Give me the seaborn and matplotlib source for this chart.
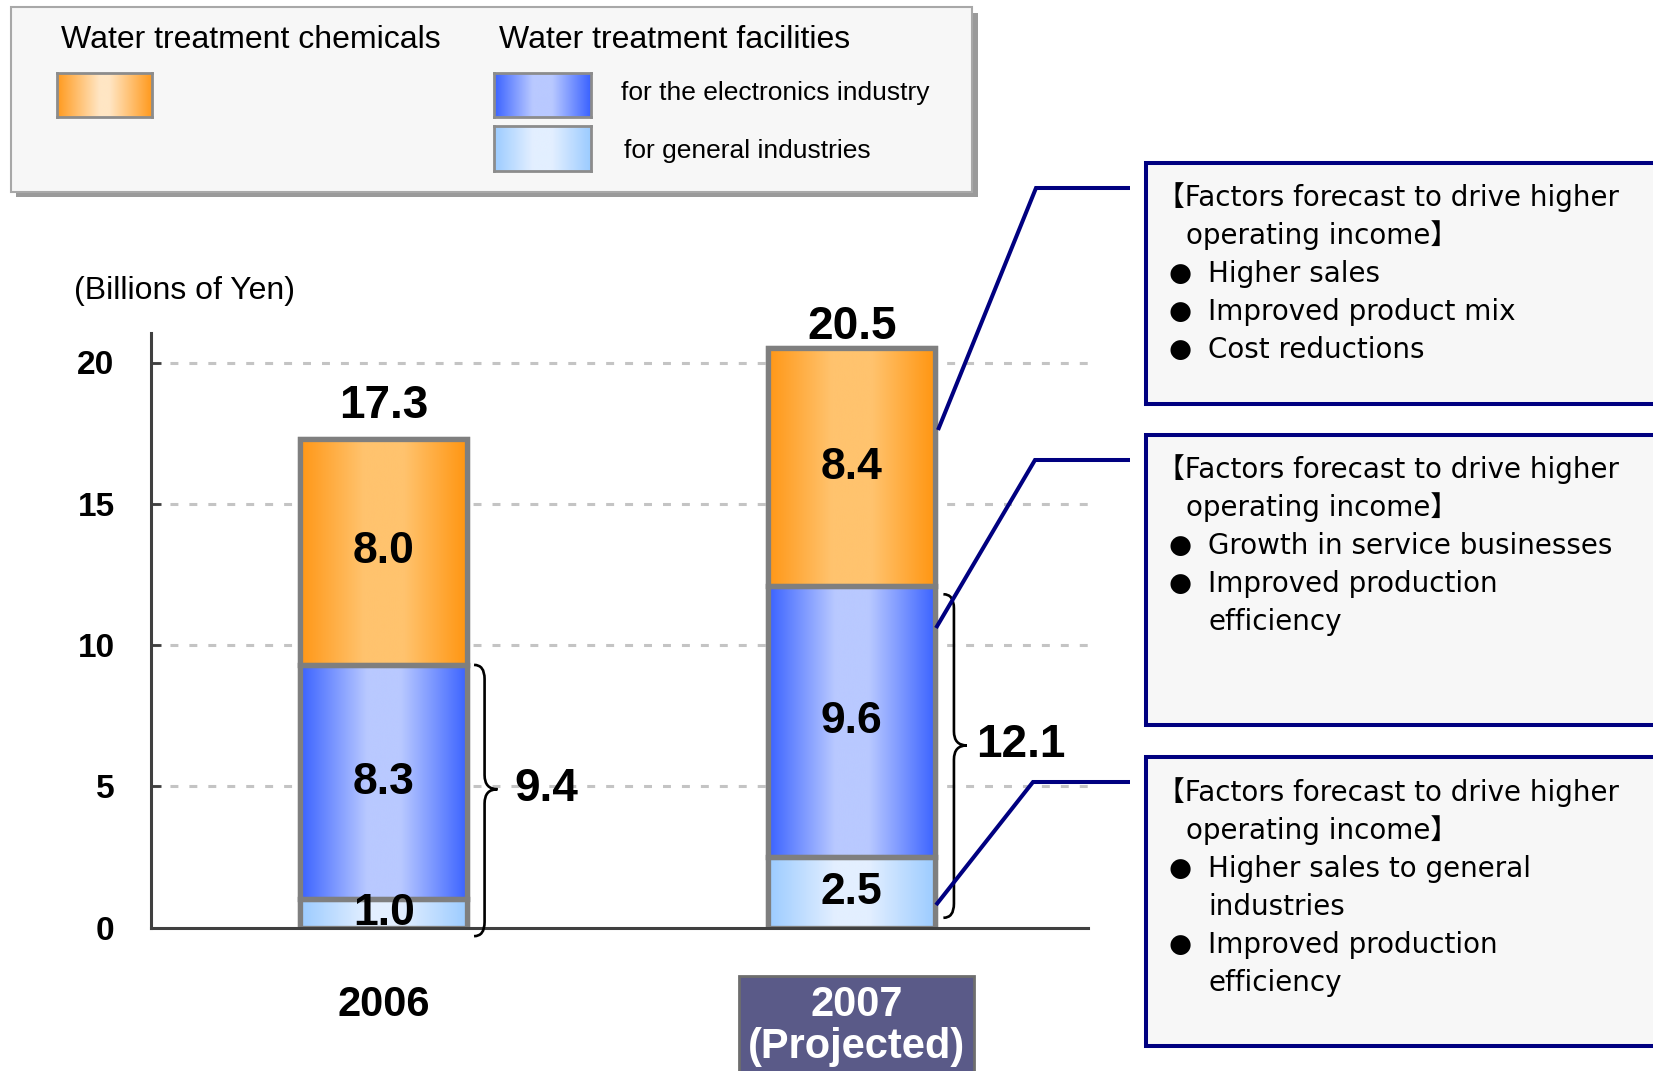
import numpy as np
import pandas as pd
import matplotlib
matplotlib.use("Agg")
import matplotlib.pyplot as plt
import seaborn as sns
from matplotlib.colors import LinearSegmentedColormap
from matplotlib.patches import Rectangle, PathPatch
from matplotlib.path import Path
from matplotlib.lines import Line2D
import matplotlib.transforms as mtransforms

# ---------------- data ----------------
years = ["2006", "2007"]
year_labels = ["2006", "2007\n(Projected)"]
general = [1.0, 2.5]          # water treatment facilities for general industries
electronics = [8.3, 9.6]      # water treatment facilities for the electronics industry
chemicals = [8.0, 8.4]        # water treatment chemicals
totals = [17.3, 20.5]
facilities_totals = [9.4, 12.1]
yticks = [0, 5, 10, 15, 20]
unit_label = "(Billions of Yen)"
legend_head_chem = "Water treatment chemicals"
legend_head_fac = "Water treatment facilities"
legend_elec = "for the electronics industry"
legend_gen = "for general industries"
box_title = ["【Factors forecast to drive higher", "operating income】"]
box1_bullets = [["Higher sales"], ["Improved product mix"], ["Cost reductions"]]
box2_bullets = [["Growth in service businesses"], ["Improved production", "efficiency"]]
box3_bullets = [["Higher sales to general", "industries"], ["Improved production", "efficiency"]]

# ---------------- style ----------------
W, H = 1653, 1071
sns.set_theme(style="white")
plt.rcParams["font.family"] = ["Liberation Sans", "DejaVu Sans"]
plt.rcParams["text.color"] = "black"
plt.rcParams["ytick.color"] = "black"
plt.rcParams["xtick.color"] = "black"
plt.rcParams["axes.labelcolor"] = "black"

def P(x, y):
    return (x / W, 1 - y / H)

EDGE = "#7F7F7F"
NAVY = "#000080"
cm_orange = LinearSegmentedColormap.from_list("o", [(0, "#FF9716"), (0.38, "#FFC36E"), (0.62, "#FFC36E"), (1, "#FF9510")])
cm_blue = LinearSegmentedColormap.from_list("b", [(0, "#3A62FF"), (0.4, "#B9C9FF"), (0.6, "#B9C9FF"), (1, "#3A62FF")])
cm_light = LinearSegmentedColormap.from_list("l", [(0, "#9BCBFF"), (0.4, "#E3EFFF"), (0.6, "#E3EFFF"), (1, "#9BCBFF")])
cm_orange_leg = LinearSegmentedColormap.from_list("ol", [(0, "#FF9A1E"), (0.45, "#FFE6C4"), (0.55, "#FFE6C4"), (1, "#FF9A1E")])
grad = np.linspace(0, 1, 256).reshape(1, -1)

fig = plt.figure(figsize=(W / 100, H / 100), dpi=100)
fig.patch.set_facecolor("white")

ax_left, ax_right, ax_bottom, ax_top = 150.7, 1088, 927.7, 333
ax = fig.add_axes([ax_left / W, 1 - ax_bottom / H, (ax_right - ax_left) / W, (ax_bottom - ax_top) / H])
ax.set_facecolor("none")

df = pd.DataFrame({"year": years, "general": general, "electronics": electronics, "chemicals": chemicals})
b1 = np.array(general)
b2 = b1 + np.array(electronics)
bw = 0.357
common = dict(x="year", width=bw, saturation=1, errorbar=None, edgecolor=EDGE, linewidth=3.8, ax=ax, zorder=2)
sns.barplot(data=df, y="general", color="#9BCBFF", **common)
sns.barplot(data=df, y="electronics", bottom=b1, color="#3A62FF", **common)
sns.barplot(data=df, y="chemicals", bottom=b2, color="#FF9716", **common)

for cont, cmap in zip(ax.containers, [cm_light, cm_blue, cm_orange]):
    for p in cont.patches:
        x, y, w, h = p.get_x(), p.get_y(), p.get_width(), p.get_height()
        im = ax.imshow(grad, cmap=cmap, extent=[x, x + w, y, y + h], aspect="auto",
                       zorder=2.1, interpolation="bicubic")
        im.set_clip_path(p)
        ax.add_patch(Rectangle((x, y), w, h, fill=False, ec=EDGE, lw=3.8, zorder=2.2))

# segment labels
for i in range(len(years)):
    for bot, val in [(0, general[i]), (b1[i], electronics[i]), (b2[i], chemicals[i])]:
        ax.text(i, bot + val / 2, f"{val:.1f}", ha="center", va="center", fontsize=32,
                fontweight="bold", color="black", zorder=5)

# totals
for i, (t, off) in enumerate(zip(totals, [15, 7])):
    ax.annotate(f"{t:.1f}", (i, t), xytext=(0, off), textcoords="offset points", ha="center",
                va="baseline", fontsize=33, fontweight="bold", annotation_clip=False)

# braces
def brace(ax, x0, w, y0, y1, ym, c=0.5):
    xm = x0 + w * 0.45
    verts = [(x0, y1), (xm, y1), (xm, y1 - c), (xm, ym + c), (xm, ym), (x0 + w, ym),
             (xm, ym), (xm, ym - c), (xm, y0 + c), (xm, y0), (x0, y0)]
    codes = [Path.MOVETO, Path.CURVE3, Path.CURVE3, Path.LINETO, Path.CURVE3, Path.CURVE3,
             Path.CURVE3, Path.CURVE3, Path.LINETO, Path.CURVE3, Path.CURVE3]
    ax.add_patch(PathPatch(Path(verts, codes), fill=False, lw=1.9, ec="black", zorder=4, clip_on=False))

brace_spans = [(0.193, -0.3, 9.3, 4.9), (1.196, 0.35, 11.8, 6.45)]
label_gaps = [0.086, 0.07]
for (bx, y0, y1, ym), val, gap in zip(brace_spans, facilities_totals, label_gaps):
    brace(ax, bx, 0.05, y0, y1, ym)
    ax.text(bx + gap, ym, f"{val:.1f}", ha="left", va="center", fontsize=33, fontweight="bold")

# axes styling
ax.set_ylim(0, (ax_bottom - ax_top) / 28.26)
ax.set_xlim(-0.498, 1.505)
ax.set_yticks(yticks)
ax.set_yticklabels([str(v) for v in yticks], fontsize=24, fontweight="bold", color="black")
ax.set_xticks([])
ax.set_xlabel("")
ax.set_ylabel("")
ax.tick_params(axis="y", direction="in", length=7, width=2, color="#404040", pad=26, left=True)
for s in ["top", "right"]:
    ax.spines[s].set_visible(False)
for s in ["left", "bottom"]:
    ax.spines[s].set_color("#404040")
    ax.spines[s].set_linewidth(2.2)
ax.set_axisbelow(True)
ax.yaxis.grid(True, color="#C4C4C4", lw=2.2, linestyle=(0, (2.6, 3.6)))
ax.xaxis.grid(False)
for gl in ax.yaxis.get_gridlines()[:1]:
    gl.set_visible(False)

fig.text(*P(74, 291), unit_label, ha="left", va="center", fontsize=23)

# year labels
tr = mtransforms.blended_transform_factory(ax.transData, fig.transFigure)
ax.text(0, P(0, 985)[1], year_labels[0], transform=tr, ha="center", va="top", fontsize=30,
        fontweight="bold")
ax.text(1.01, P(0, 985)[1], year_labels[1], transform=tr, ha="center", va="top", fontsize=30,
        fontweight="bold", color="white", linespacing=1.05,
        bbox=dict(boxstyle="square,pad=0.22", fc="#5A5A88", ec="#6E6E6E", lw=2))

# legend box
fig.add_artist(Rectangle(P(16, 197), (978 - 16) / W, (197 - 13) / H, transform=fig.transFigure,
                         fc="#9A9A9A", ec="none", zorder=0))
fig.add_artist(Rectangle(P(10.5, 192), (972 - 10.5) / W, (192 - 7.4) / H, transform=fig.transFigure,
                         fc="#F7F7F7", ec="#A8A8A8", lw=1.5, zorder=1))
fig.text(*P(61, 40), legend_head_chem, ha="left", va="center", fontsize=23, zorder=3)
fig.text(*P(499, 40), legend_head_fac, ha="left", va="center", fontsize=23, zorder=3)
fig.text(*P(621, 93), legend_elec, ha="left", va="center", fontsize=19, zorder=3)
fig.text(*P(624, 151), legend_gen, ha="left", va="center", fontsize=19, zorder=3)
for (x0, y0, x1, y1), cmap in [((57, 73, 152, 117), cm_orange_leg), ((494, 73, 591, 117), cm_blue),
                               ((494, 126, 591, 171), cm_light)]:
    sa = fig.add_axes([x0 / W, 1 - y1 / H, (x1 - x0) / W, (y1 - y0) / H])
    sa.set_zorder(5)
    sa.imshow(grad, cmap=cmap, aspect="auto", interpolation="bicubic")
    sa.set_xticks([]); sa.set_yticks([])
    for s in sa.spines.values():
        s.set_color("#8C8C8C"); s.set_linewidth(2); s.set_visible(True)

# annotation boxes and connectors
boxes = [(163, 404, box1_bullets, 197), (435, 725, box2_bullets, 469), (757, 1046, box3_bullets, 792)]
line_h = 38.3
fam = ["DejaVu Sans", "Noto Sans CJK JP"]
for top, bot, bullets, y_first in boxes:
    fig.add_artist(Rectangle(P(1146, bot), (1720 - 1146) / W, (bot - top) / H, transform=fig.transFigure,
                             fc="#F7F7F7", ec=NAVY, lw=2.9, zorder=1))
    fig.text(*P(1157, y_first), box_title[0], ha="left", va="center", fontsize=20, family=fam, zorder=3)
    fig.text(*P(1186, y_first + line_h), box_title[1], ha="left", va="center", fontsize=20, family=fam, zorder=3)
    y = y_first + 2 * line_h
    for item in bullets:
        fig.text(*P(1180, y), "●", ha="center", va="center", fontsize=19, family=fam, zorder=3)
        for ln in item:
            fig.text(*P(1208, y), ln, ha="left", va="center", fontsize=20, family=fam, zorder=3)
            y += line_h

connectors = [[(1130, 188), (1036, 188), (938, 430)],
              [(1130, 460), (1035, 460), (936, 628)],
              [(1130, 782), (1033, 782), (936, 905)]]
for pts in connectors:
    xs = [p[0] / W for p in pts]
    ys = [1 - p[1] / H for p in pts]
    fig.add_artist(Line2D(xs, ys, transform=fig.transFigure, color=NAVY, lw=2.9, zorder=6,
                          solid_capstyle="butt", solid_joinstyle="miter"))

fig.savefig("out.png", dpi=100, facecolor="white")
